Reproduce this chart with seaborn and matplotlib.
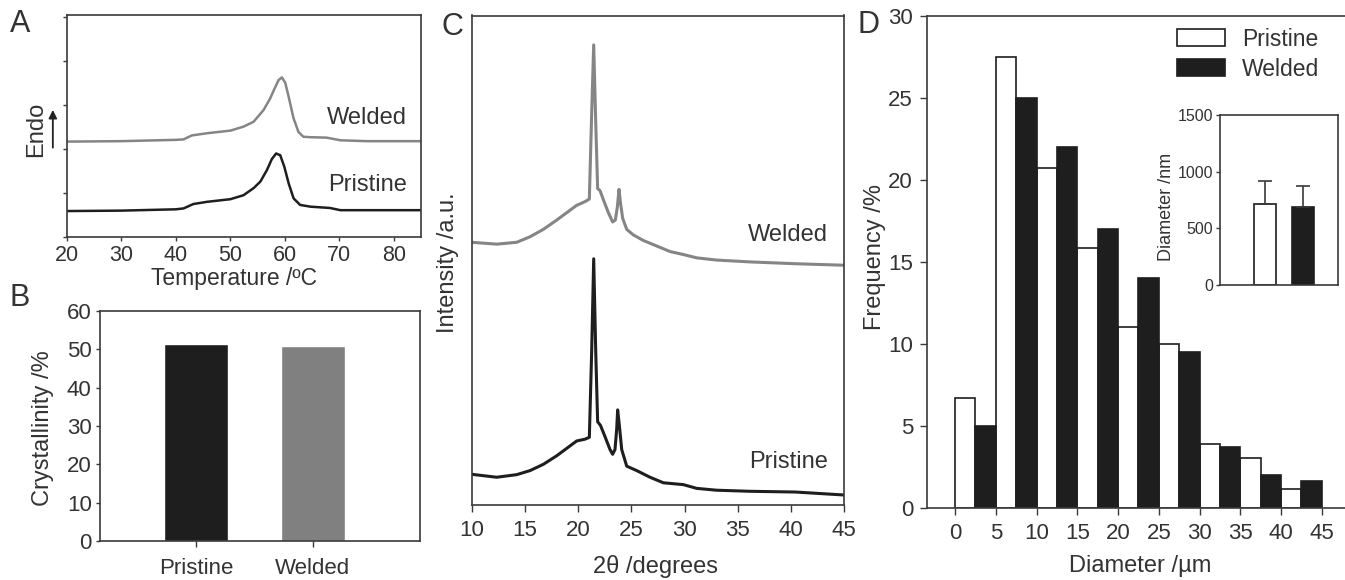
import matplotlib
matplotlib.use("Agg")
import matplotlib.pyplot as plt
import seaborn as sns

# ---- data ----
# A: DSC traces (temperature in C, heat flow in arbitrary offset units)
dsc_temp_welded = [20, 30, 40, 41.4, 42.9, 45.7, 50.0, 52.4, 54.25, 56.1, 57.3, 58.2,
                   58.85, 59.46, 60.07, 60.7, 61.6, 62.5, 63.4, 64.7, 67.7, 70.2, 75, 85]
dsc_welded = [2.17, 2.18, 2.21, 2.22, 2.31, 2.36, 2.42, 2.51, 2.62, 2.89, 3.15, 3.40,
              3.57, 3.63, 3.51, 3.19, 2.70, 2.39, 2.28, 2.27, 2.26, 2.20, 2.18, 2.18]
dsc_temp_pristine = [20, 30, 40, 41.4, 43.2, 45.7, 50.0, 52.4, 54.25, 55.5, 56.7, 57.6,
                     58.4, 59.15, 59.9, 60.7, 61.6, 62.8, 64.7, 68.3, 70.2, 75, 85]
dsc_pristine = [0.59, 0.60, 0.63, 0.65, 0.75, 0.80, 0.86, 0.95, 1.11, 1.26, 1.52, 1.77,
                1.90, 1.86, 1.60, 1.22, 0.88, 0.73, 0.69, 0.66, 0.61, 0.61, 0.61]

# B: crystallinity
samples = ["Pristine", "Welded"]
crystallinity = [51.5, 50.75]

# C: XRD patterns (2theta in degrees, intensity a.u.)
xrd_angle_welded = [10.0, 12.35, 14.23, 15.48, 16.73, 17.98, 18.92, 19.86, 20.65, 21.05,
                    21.27, 21.46, 21.65, 21.83, 22.05, 22.37, 22.84, 23.24, 23.49, 23.68,
                    23.84, 23.96, 24.18, 24.56, 25.18, 26.12, 27.38, 28.63, 29.88, 31.13,
                    33.01, 36.14, 40.53, 45.0]
xrd_welded = [53.67, 53.29, 53.67, 54.8, 56.31, 58.2, 59.71, 61.22, 61.98, 62.51,
              80.0, 94.0, 78.2, 64.63, 64.25, 62.36, 59.71, 57.82, 58.2, 60.85,
              64.48, 61.98, 58.58, 56.31, 55.18, 54.04, 52.91, 51.78, 51.17, 50.49,
              50.04, 49.66, 49.28, 48.98]
xrd_angle_pristine = [10.0, 12.35, 14.23, 15.48, 16.73, 17.98, 18.92, 19.86, 20.65, 21.05,
                      21.27, 21.46, 21.65, 21.83, 22.1, 22.52, 22.99, 23.24, 23.46, 23.62,
                      23.71, 23.87, 24.09, 24.56, 25.5, 26.75, 28.0, 29.88, 31.13, 33.01,
                      36.14, 40.4, 45.0]
xrd_pristine = [6.27, 5.67, 6.2, 7.03, 8.31, 10.05, 11.56, 13.08, 13.45, 13.83,
                31.4, 50.3, 31.4, 17.0, 16.25, 13.98, 11.34, 10.36, 11.34, 15.5,
                19.43, 16.25, 11.34, 7.94, 7.03, 5.67, 4.54, 4.16, 3.4, 3.02,
                2.8, 2.65, 2.04]

# D: diameter histogram (bin start in um, frequency %)
pristine_bins = [0, 5, 10, 15, 20, 25, 30, 35, 40]
pristine_freq = [6.7, 27.5, 20.7, 15.8, 11.0, 10.0, 3.9, 3.0, 1.1]
welded_bins = [2.5, 7.5, 12.5, 17.5, 22.5, 27.5, 32.5, 37.5, 42.5]
welded_freq = [5.0, 25.0, 22.0, 17.0, 14.0, 9.5, 3.7, 2.0, 1.6]

# D inset: mean diameter (nm) with upper error
inset_mean = [712, 686]
inset_err = [206, 190]

TEXT = "#333333"
EDGE = "#3a3a3a"
DARK = "#1e1e1e"
GREY = "#858585"

sns.set_theme(style="ticks")
plt.rcParams["font.family"] = ["Liberation Sans", "DejaVu Sans"]
plt.rcParams.update({
    "axes.edgecolor": EDGE,
    "axes.linewidth": 1.2,
    "xtick.color": EDGE,
    "ytick.color": EDGE,
    "xtick.labelcolor": TEXT,
    "ytick.labelcolor": TEXT,
    "xtick.labelsize": 16,
    "ytick.labelsize": 16,
    "text.color": TEXT,
})

W, H = 1345, 580
fig = plt.figure(figsize=(W / 100, H / 100), dpi=100)


def box(left, top, right, bottom):
    return [left / W, 1 - bottom / H, (right - left) / W, (bottom - top) / H]


# ---- A ----
ax_a = fig.add_axes(box(67, 15, 421, 237))
sns.lineplot(x=dsc_temp_welded, y=dsc_welded, ax=ax_a, color=GREY, lw=1.8)
sns.lineplot(x=dsc_temp_pristine, y=dsc_pristine, ax=ax_a, color=DARK, lw=1.8)
ax_a.set_xlim(20, 85)
ax_a.set_ylim(0, 5.05)
ax_a.set_xticks(range(20, 90, 10))
ax_a.set_yticks(range(0, 6))
ax_a.set_yticklabels([])
ax_a.tick_params(length=3, width=1, pad=3)
ax_a.tick_params(axis="x", labelsize=15.5)
ax_a.text(0.96, 0.536, "Welded", transform=ax_a.transAxes, ha="right", va="center", fontsize=17)
ax_a.text(0.96, 0.234, "Pristine", transform=ax_a.transAxes, ha="right", va="center", fontsize=17)
ax_a.text(0.472, -0.185, "Temperature /ºC", transform=ax_a.transAxes, ha="center", va="center", fontsize=16.5)
ax_a.text(-0.088, 0.484, "Endo", transform=ax_a.transAxes, rotation=90, ha="center", va="center", fontsize=17)
ax_a.annotate("", xy=(-0.04, 0.585), xytext=(-0.04, 0.39), xycoords="axes fraction",
              textcoords="axes fraction", annotation_clip=False,
              arrowprops=dict(arrowstyle="-|>", color="#222222", lw=1.3, mutation_scale=12))

# ---- B ----
ax_b = fig.add_axes(box(100, 311, 420, 541))
sns.barplot(x=samples, y=crystallinity, hue=samples, palette=[DARK, "#808080"], legend=False,
            width=0.55, saturation=1, ax=ax_b)
ax_b.set_xlim(-0.82, 1.915)
ax_b.set_ylim(0, 60)
ax_b.set_yticks(range(0, 70, 10))
ax_b.set_xlabel("")
ax_b.set_ylabel("")
ax_b.tick_params(axis="y", length=3, width=1, pad=3)
ax_b.tick_params(axis="x", length=4, width=1, pad=8)
ax_b.text(-0.178, 0.491, "Crystallinity /%", transform=ax_b.transAxes, rotation=90,
          ha="center", va="center", fontsize=17)

# ---- C ----
ax_c = fig.add_axes(box(471.7, 15.5, 844.3, 505))
sns.lineplot(x=xrd_angle_welded, y=xrd_welded, ax=ax_c, color=GREY, lw=2.2)
sns.lineplot(x=xrd_angle_pristine, y=xrd_pristine, ax=ax_c, color=DARK, lw=2.2)
ax_c.set_xlim(10, 45)
ax_c.set_ylim(0, 100)
ax_c.set_xticks(range(10, 50, 5))
ax_c.set_yticks([])
ax_c.tick_params(axis="x", length=5, width=1, pad=6)
ax_c.text(0.955, 0.552, "Welded", transform=ax_c.transAxes, ha="right", va="center", fontsize=17)
ax_c.text(0.955, 0.088, "Pristine", transform=ax_c.transAxes, ha="right", va="center", fontsize=17)
ax_c.text(0.492, -0.125, "2θ /degrees", transform=ax_c.transAxes, ha="center", va="center", fontsize=17)
ax_c.text(-0.064, 0.494, "Intensity /a.u.", transform=ax_c.transAxes, rotation=90,
          ha="center", va="center", fontsize=17)

# ---- D ----
ax_d = fig.add_axes(box(927, 15.5, 1345, 507.5))
bars_p = ax_d.bar(pristine_bins, pristine_freq, width=2.5, align="edge", color="white",
                  edgecolor=DARK, lw=1.2, label="Pristine")
bars_w = ax_d.bar(welded_bins, welded_freq, width=2.5, align="edge", color=DARK,
                  edgecolor=DARK, lw=1.2, label="Welded")
ax_d.set_xlim(-3.44, 47.85)
ax_d.set_ylim(0, 30)
ax_d.set_xticks(range(0, 50, 5))
ax_d.set_yticks(range(0, 35, 5))
ax_d.spines["right"].set_visible(False)
ax_d.tick_params(length=5, width=1, pad=5)
ax_d.tick_params(axis="x", pad=6)
ax_d.text(0.51, -0.119, "Diameter /µm", transform=ax_d.transAxes, ha="center", va="center", fontsize=17)
ax_d.text(-0.124, 0.509, "Frequency /%", transform=ax_d.transAxes, rotation=90,
          ha="center", va="center", fontsize=17)
ax_d.legend(handles=[bars_p, bars_w], loc="upper left", bbox_to_anchor=(0.598, 0.975),
            frameon=False, fontsize=16.5, handlelength=2.1, handleheight=0.75,
            handletextpad=0.75, labelspacing=0.3, borderpad=0, borderaxespad=0)

# inset
ax_i = fig.add_axes(box(1220, 115, 1338, 285))
sns.barplot(x=samples, y=inset_mean, hue=samples, palette=["white", DARK], legend=False,
            width=0.58, saturation=1, edgecolor=DARK, linewidth=1.2, ax=ax_i)
ax_i.errorbar(x=[0, 1], y=inset_mean, yerr=[[0, 0], inset_err], fmt="none",
              ecolor=EDGE, elinewidth=1.2, capsize=5, capthick=1.2, zorder=1)
ax_i.set_xlim(-1.18, 1.92)
ax_i.set_ylim(0, 1500)
ax_i.set_yticks([0, 500, 1000, 1500])
ax_i.set_xticks([])
ax_i.set_xlabel("")
ax_i.set_ylabel("")
ax_i.tick_params(axis="y", length=3, width=1, pad=2, labelsize=11.5)
ax_i.text(-0.45, 0.459, "Diameter /nm", transform=ax_i.transAxes, rotation=90,
          ha="center", va="center", fontsize=13)

# panel letters
for letter, x, y in [("A", 20, 24), ("B", 20, 298), ("C", 452, 27), ("D", 868, 25)]:
    fig.text(x / W, 1 - y / H, letter, ha="center", va="center", fontsize=22, color=TEXT)

fig.savefig("out.png", dpi=100)
